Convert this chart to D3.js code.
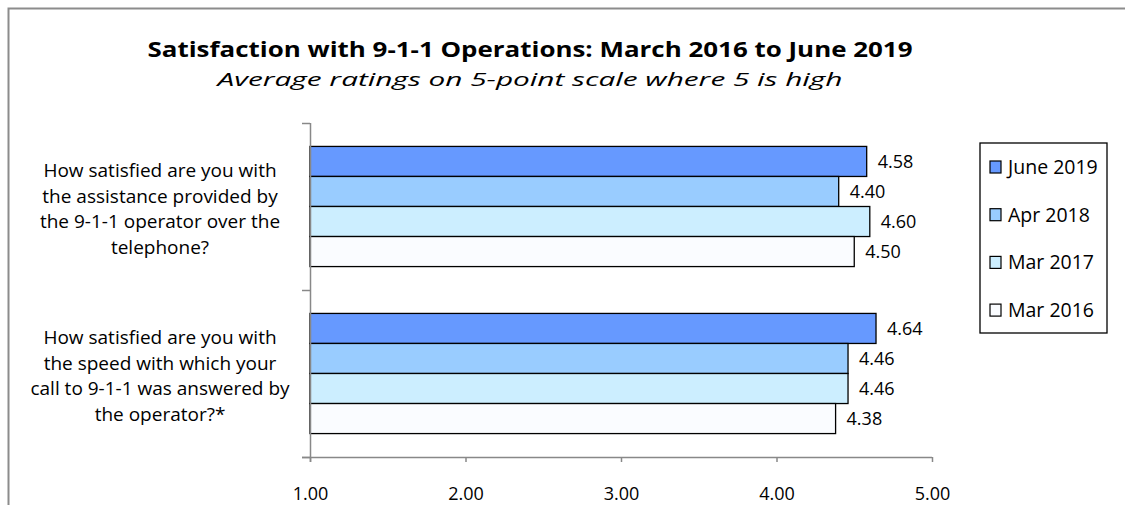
<!DOCTYPE html>
<html>
<head>
<meta charset="utf-8">
<script src="https://cdn.jsdelivr.net/npm/d3@7"></script>
<style>
  html, body { margin: 0; background: #fff; overflow: hidden; }
  svg { display: block; }
  svg text { font-family: "Open Sans", sans-serif; fill: #000; }
</style>
</head>
<body>
<div id="chart"></div>
<script>
// chart data
var questions = [
    ["How satisfied are you with", "the assistance provided by", "the 9-1-1 operator over the", "telephone?"],
    ["How satisfied are you with", "the speed with which your", "call to 9-1-1 was answered by", "the operator?*"]
];
var seriesNames = ["June 2019", "Apr 2018", "Mar 2017", "Mar 2016"];
var june2019 = [4.58, 4.64];
var apr2018 = [4.40, 4.46];
var mar2017 = [4.60, 4.46];
var mar2016 = [4.50, 4.38];
var xTicks = [1, 2, 3, 4, 5];
var colors = ["#6699ff", "#99ccff", "#cceeff", "#fafcff"];

var seriesValues = [june2019, apr2018, mar2017, mar2016];

var width = 1125, height = 505;
var plot = { left: 310, right: 932, top: 123, bottom: 457 };

var svg = d3.select("#chart").append("svg")
    .attr("width", width)
    .attr("height", height);

// outer chart border: only top and left edges are inside the picture
svg.append("path")
    .attr("d", "M8.5," + height + "V8.5H" + width)
    .attr("fill", "none")
    .attr("stroke", "#8c8c8c")
    .attr("stroke-width", 2);

// title
svg.append("text")
    .attr("x", 530).attr("y", 57)
    .attr("text-anchor", "middle")
    .attr("font-size", 22)
    .attr("font-weight", "bold")
    .attr("textLength", 765)
    .attr("lengthAdjust", "spacingAndGlyphs")
    .text("Satisfaction with 9-1-1 Operations: March 2016 to June 2019");

svg.append("text")
    .attr("x", 530).attr("y", 86)
    .attr("text-anchor", "middle")
    .attr("font-size", 18)
    .attr("font-style", "italic")
    .attr("textLength", 625)
    .attr("lengthAdjust", "spacingAndGlyphs")
    .text("Average ratings on 5-point scale where 5 is high");

var x = d3.scaleLinear()
    .domain([1, 5])
    .range([plot.left, plot.right]);

var y0 = d3.scaleBand()
    .domain(d3.range(questions.length))
    .range([plot.top, plot.bottom]);

var y1 = d3.scaleBand()
    .domain(d3.range(seriesNames.length))
    .range([0, y0.bandwidth()])
    .paddingOuter(0.78);

// bars
var groups = svg.selectAll("g.group")
    .data(questions)
    .enter().append("g")
    .attr("class", "group")
    .attr("transform", (d, i) => "translate(0," + y0(i) + ")");

groups.each(function(q, qi) {
    var g = d3.select(this);
    seriesValues.forEach(function(vals, si) {
        g.append("rect")
            .attr("x", x(1))
            .attr("y", y1(si))
            .attr("width", x(vals[qi]) - x(1))
            .attr("height", y1.bandwidth())
            .attr("fill", colors[si])
            .attr("stroke", "#000")
            .attr("stroke-width", 1.3);
        g.append("text")
            .attr("x", x(vals[qi]) + 11)
            .attr("y", y1(si) + y1.bandwidth() / 2)
            .attr("dy", "0.35em")
            .attr("font-size", 18)
            .text(d3.format(".2f")(vals[qi]));
    });

    // category label
    var t = g.append("text")
        .attr("text-anchor", "middle")
        .attr("font-size", 19);
    q.forEach(function(line, li) {
        t.append("tspan")
            .attr("x", 160)
            .attr("y", y1(0) + 30.5 + li * 25.7)
            .text(line);
    });
});

// x axis
var xAxis = svg.append("g")
    .attr("transform", "translate(0," + plot.bottom + ")")
    .call(d3.axisBottom(x)
        .tickValues(xTicks)
        .tickSize(5)
        .tickSizeOuter(0)
        .tickPadding(25)
        .tickFormat(d3.format(".2f")));
xAxis.select(".domain").attr("stroke", "#888").attr("stroke-width", 1.5)
    .attr("d", "M" + (plot.left - 8) + ",0.5H" + plot.right);
xAxis.selectAll(".tick line").attr("stroke", "#888").attr("stroke-width", 1.5);
xAxis.selectAll(".tick text")
    .attr("font-size", 18)
    .attr("font-family", null);

// y axis (category)
var yAxis = svg.append("g")
    .attr("transform", "translate(" + plot.left + ",0)")
    .call(d3.axisLeft(d3.scaleLinear().domain([0, 2]).range([plot.top, plot.bottom]))
        .tickValues([0, 1, 2])
        .tickSize(8)
        .tickSizeOuter(0)
        .tickFormat(""));
yAxis.select(".domain").attr("stroke", "#888").attr("stroke-width", 1.5)
    .attr("d", "M0.5," + plot.top + "V" + (plot.bottom + 5));
yAxis.selectAll(".tick line").attr("stroke", "#888").attr("stroke-width", 1.5);

// legend
var legend = svg.append("g").attr("transform", "translate(980,143)");
legend.append("rect")
    .attr("width", 127).attr("height", 190)
    .attr("fill", "#fff")
    .attr("stroke", "#000")
    .attr("stroke-width", 1.3);

var items = legend.selectAll("g.item")
    .data(seriesNames)
    .enter().append("g")
    .attr("class", "item")
    .attr("transform", (d, i) => "translate(10," + (24 + i * 47.7) + ")");

items.append("rect")
    .attr("x", 0).attr("y", -6)
    .attr("width", 11).attr("height", 12)
    .attr("fill", (d, i) => colors[i])
    .attr("stroke", "#000")
    .attr("stroke-width", 1.2);

items.append("text")
    .attr("x", 18)
    .attr("dy", "0.35em")
    .attr("font-size", 19.5)
    .text(d => d);
</script>
</body>
</html>
